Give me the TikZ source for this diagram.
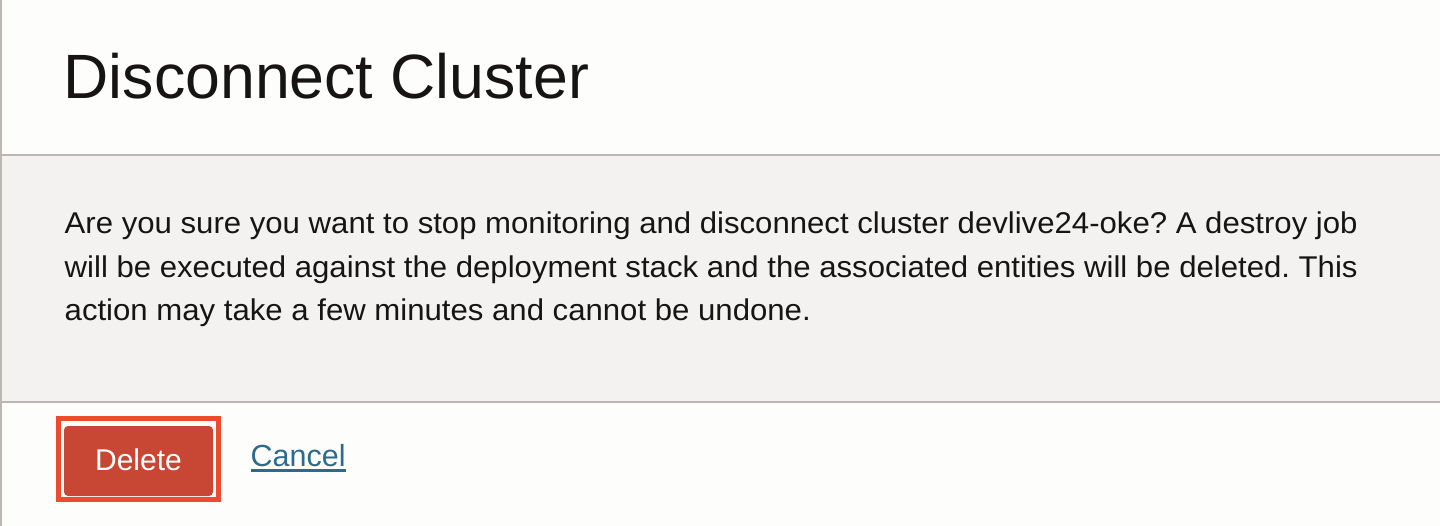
\documentclass[tikz,border=0pt]{standalone}
\usepackage{fontspec}
\setmainfont{Liberation Sans}
\newfontfamily\bodyfont[FakeStretch=1.038]{Liberation Sans}
\frenchspacing
\definecolor{pagebg}{HTML}{FDFDFC}
\definecolor{bandbg}{HTML}{F3F2F1}
\definecolor{rulegrey}{HTML}{BDB7B2}
\definecolor{inktext}{HTML}{161513}
\definecolor{btnred}{HTML}{C74634}
\definecolor{focusred}{HTML}{EE4A2C}
\definecolor{linkblue}{HTML}{2D6A8D}
\tikzset{
  txt/.style={inner sep=0pt, anchor=base west, text=inktext},
  bodytxt/.style={txt, font=\bodyfont\fontsize{30}{36}\selectfont},
}
\begin{document}
\begin{tikzpicture}[x=1pt,y=-1pt]
\useasboundingbox (0,0) rectangle (1440,526);
\fill[pagebg] (0,0) rectangle (1440,526);
\fill[bandbg] (0,156) rectangle (1440,400.7);
\fill[rulegrey] (0,154) rectangle (1440,156);
\fill[rulegrey] (0,400.7) rectangle (1440,402.7);
\fill[rulegrey] (0,0) rectangle (2,526);
% title
\node[txt, font=\fontsize{62.6}{70}\selectfont] (title) at (63.5,99) {Disconnect Cluster};
% body
\node[bodytxt] (l1) at (64.5,234) {Are you sure you want to stop monitoring and disconnect cluster devlive24-oke? A destroy job};
\node[bodytxt] (l2) at (64.5,277.3) {will be executed against the deployment stack and the associated entities will be deleted. This};
\node[bodytxt] (l3) at (64.5,320.7) {action may take a few minutes and cannot be undone.};
% button
\draw[focusred, line width=5pt] (58.5,418.5) rectangle (218.5,499.5);
\fill[btnred, rounded corners=4pt] (64,426) rectangle (213,496);
\node[inner sep=0pt, anchor=base, text=white, font=\fontsize{30}{36}\selectfont] (delete) at (138.5,470.7) {Delete};
% cancel link
\node[inner sep=0pt, anchor=base west, text=linkblue, font=\fontsize{30.5}{36}\selectfont] (cancel) at (250.5,466.7) {Cancel};
\fill[linkblue] (cancel.base west |- 0,469.4) rectangle (cancel.base east |- 0,472);
\end{tikzpicture}
\end{document}
